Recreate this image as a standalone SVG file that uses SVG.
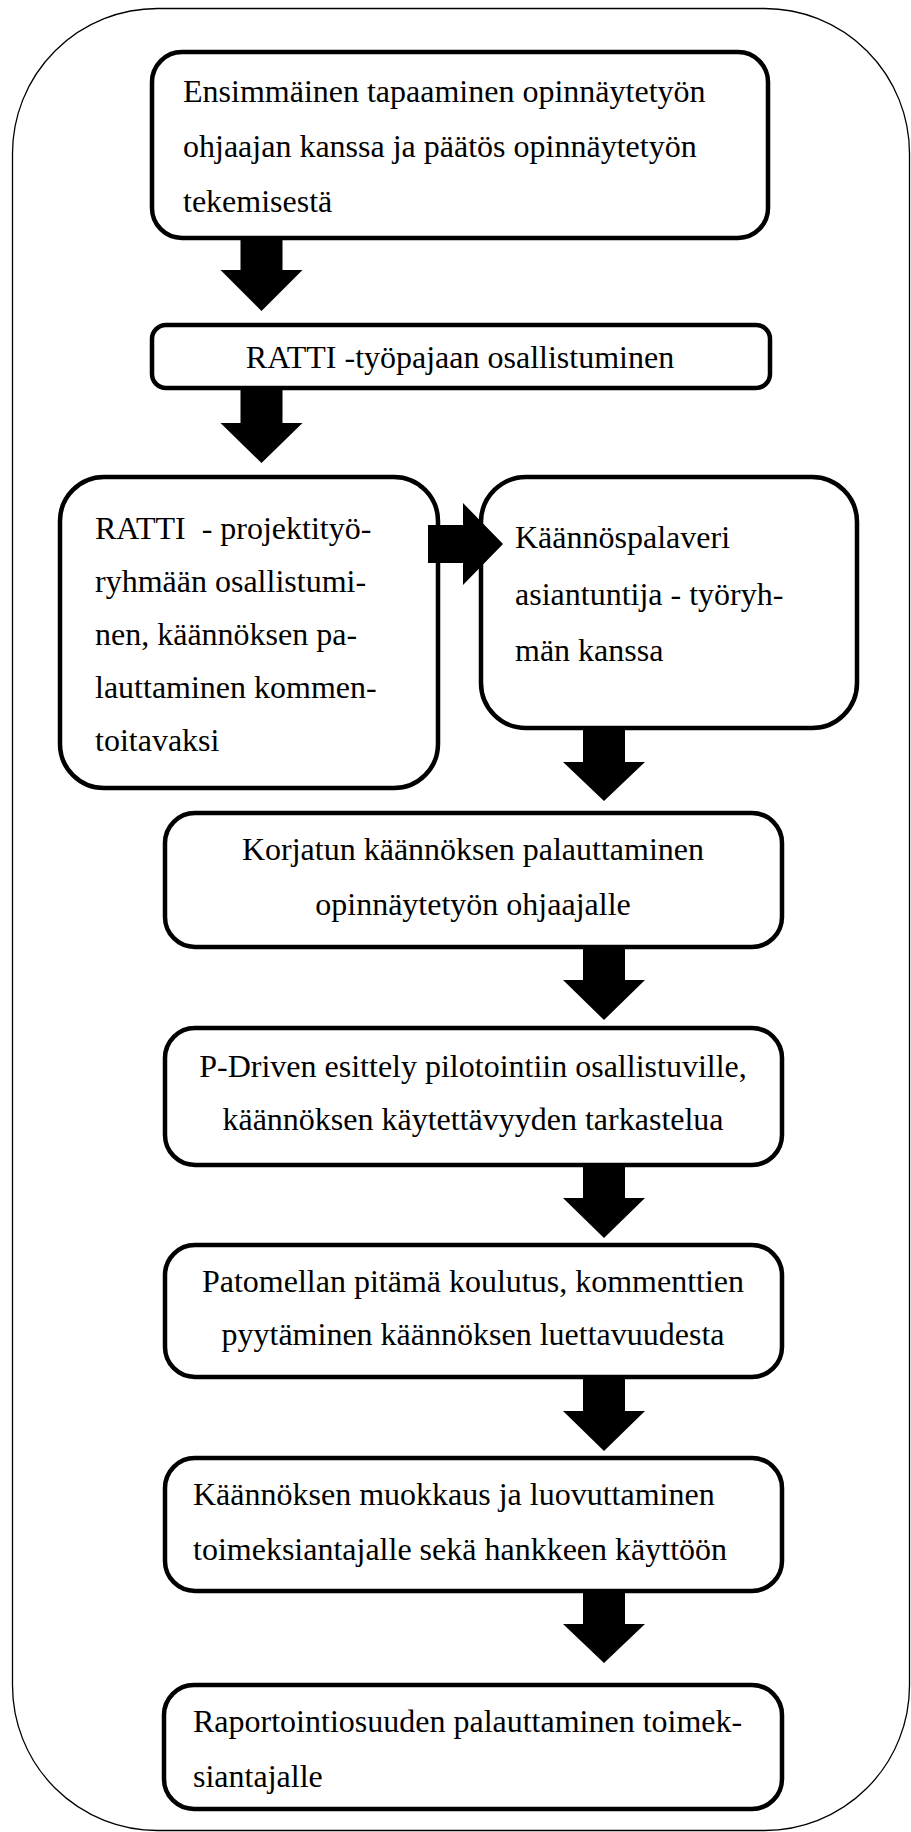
<svg xmlns="http://www.w3.org/2000/svg" width="911" height="1832" viewBox="0 0 911 1832">
<style>
.frame{fill:none;stroke:#000;stroke-width:1.3}
.box{fill:#fff;stroke:#000;stroke-width:4.5}
.t{font-family:"Liberation Serif","Times New Roman",serif;font-size:32px;fill:#000}
.c{text-anchor:middle}
.arr{fill:#000;stroke:none}
</style>
<rect width="911" height="1832" fill="#fff"/>
<rect class="frame" x="12.5" y="8.5" width="897" height="1822" rx="145" ry="145"/>
<g id="n1"><rect class="box" x="152" y="52" width="616" height="186" rx="30"/>
<text class="t" x="183" y="102">Ensimmäinen tapaaminen opinnäytetyön</text>
<text class="t" x="183" y="157">ohjaajan kanssa ja päätös opinnäytetyön</text>
<text class="t" x="183" y="212">tekemisestä</text></g>
<g id="n2"><rect class="box" x="152" y="325" width="618" height="63" rx="14"/>
<text class="t c" x="460" y="368">RATTI -työpajaan osallistuminen</text></g>
<g id="n3"><rect class="box" x="60" y="477" width="378" height="311" rx="44"/>
<text class="t" x="95" y="539">RATTI&#160; - projektityö-</text>
<text class="t" x="95" y="592">ryhmään osallistumi-</text>
<text class="t" x="95" y="645">nen, käännöksen pa-</text>
<text class="t" x="95" y="698">lauttaminen kommen-</text>
<text class="t" x="95" y="751">toitavaksi</text></g>
<g id="n4"><rect class="box" x="481" y="477" width="376" height="251" rx="45"/>
<text class="t" x="515" y="548">Käännöspalaveri</text>
<text class="t" x="515" y="605">asiantuntija - työryh-</text>
<text class="t" x="515" y="661">män kanssa</text></g>
<g id="n5"><rect class="box" x="165" y="813" width="617" height="134" rx="30"/>
<text class="t c" x="473" y="860">Korjatun käännöksen palauttaminen</text>
<text class="t c" x="473" y="915">opinnäytetyön ohjaajalle</text></g>
<g id="n6"><rect class="box" x="165" y="1028" width="617" height="137" rx="30"/>
<text class="t c" x="473" y="1077">P-Driven esittely pilotointiin osallistuville,</text>
<text class="t c" x="473" y="1130">käännöksen käytettävyyden tarkastelua</text></g>
<g id="n7"><rect class="box" x="165" y="1245" width="617" height="132" rx="30"/>
<text class="t c" x="473" y="1292">Patomellan pitämä koulutus, kommenttien</text>
<text class="t c" x="473" y="1345">pyytäminen käännöksen luettavuudesta</text></g>
<g id="n8"><rect class="box" x="165" y="1458" width="617" height="133" rx="30"/>
<text class="t" x="193" y="1505">Käännöksen muokkaus ja luovuttaminen</text>
<text class="t" x="193" y="1560">toimeksiantajalle sekä hankkeen käyttöön</text></g>
<g id="n9"><rect class="box" x="164" y="1685" width="618" height="124" rx="30"/>
<text class="t" x="193" y="1732">Raportointiosuuden palauttaminen toimek-</text>
<text class="t" x="193" y="1787">siantajalle</text></g>
<g id="connectors">
<polygon class="arr" points="240.5,236 282.5,236 282.5,270 302.5,270 261.5,311 220.5,270 240.5,270"/>
<polygon class="arr" points="240.5,386 282.5,386 282.5,423 302.5,423 261.5,463 220.5,423 240.5,423"/>
<polygon class="arr" points="428,525 463,525 463,503 503,544 463,585 463,563 428,563"/>
<polygon class="arr" points="583,726 625,726 625,762 645,762 604,801 563,762 583,762"/>
<polygon class="arr" points="583,945 625,945 625,980 645,980 604,1020 563,980 583,980"/>
<polygon class="arr" points="583,1163 625,1163 625,1198 645,1198 604,1238 563,1198 583,1198"/>
<polygon class="arr" points="583,1375 625,1375 625,1411 645,1411 604,1451 563,1411 583,1411"/>
<polygon class="arr" points="583,1589 625,1589 625,1624 645,1624 604,1663 563,1624 583,1624"/>
</g>
</svg>
